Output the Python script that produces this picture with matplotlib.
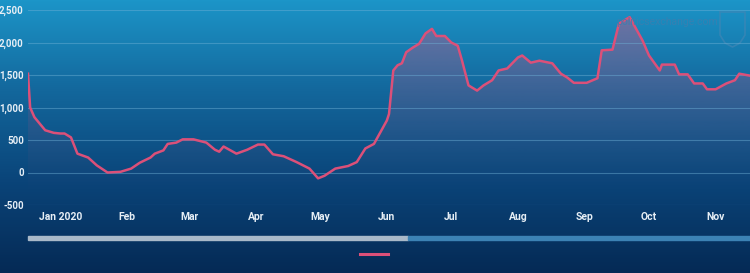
import numpy as np
import pandas as pd
import matplotlib
matplotlib.use("Agg")
import matplotlib.pyplot as plt
import matplotlib.dates as mdates
from matplotlib.colors import LinearSegmentedColormap

# values (7-day style series)
daty = [
    "2019-12-17", "2019-12-18", "2019-12-20", "2019-12-22", "2019-12-25", "2019-12-29",
    "2020-01-01", "2020-01-03", "2020-01-06", "2020-01-09", "2020-01-14", "2020-01-18",
    "2020-01-23", "2020-01-29", "2020-02-03", "2020-02-07", "2020-02-12", "2020-02-14",
    "2020-02-18", "2020-02-20", "2020-02-24", "2020-02-27", "2020-03-03", "2020-03-09",
    "2020-03-13", "2020-03-15", "2020-03-17", "2020-03-23", "2020-03-28", "2020-04-02",
    "2020-04-05", "2020-04-09", "2020-04-14", "2020-04-20", "2020-04-26", "2020-04-30",
    "2020-05-03", "2020-05-08", "2020-05-14", "2020-05-18", "2020-05-22", "2020-05-26",
    "2020-05-29", "2020-06-01", "2020-06-02", "2020-06-04", "2020-06-06", "2020-06-08",
    "2020-06-10", "2020-06-13", "2020-06-16", "2020-06-19", "2020-06-22", "2020-06-24",
    "2020-06-28", "2020-07-01", "2020-07-04", "2020-07-06", "2020-07-09", "2020-07-13",
    "2020-07-16", "2020-07-20", "2020-07-23", "2020-07-27", "2020-08-01", "2020-08-03",
    "2020-08-07", "2020-08-11", "2020-08-17", "2020-08-21", "2020-08-24", "2020-08-27",
    "2020-09-02", "2020-09-07", "2020-09-09", "2020-09-14", "2020-09-17", "2020-09-21",
    "2020-09-22", "2020-09-25", "2020-09-28", "2020-10-01", "2020-10-06", "2020-10-07",
    "2020-10-13", "2020-10-15", "2020-10-19", "2020-10-22", "2020-10-26", "2020-10-28",
    "2020-11-01", "2020-11-06", "2020-11-10", "2020-11-12", "2020-11-17",
]
wartosci = [
    1520, 1000, 850, 770, 650, 610,
    600, 600, 540, 290, 230, 110,
    0, 10, 60, 150, 230, 290,
    340, 440, 460, 510, 510, 460,
    350, 320, 400, 290, 350, 430,
    430, 280, 250, 160, 60, -90,
    -50, 60, 100, 160, 370, 440,
    620, 800, 900, 1570, 1650, 1680,
    1850, 1920, 1980, 2140, 2210, 2100,
    2100, 2000, 1950, 1720, 1340, 1260,
    1340, 1420, 1570, 1600, 1770, 1800,
    1690, 1720, 1680, 1520, 1460, 1380,
    1380, 1450, 1880, 1890, 2290, 2370,
    2390, 2210, 2030, 1800, 1570, 1660,
    1660, 1510, 1510, 1370, 1370, 1280,
    1280, 1370, 1420, 1520, 1490,
]
miesiace = ["2020-01-01", "2020-02-01", "2020-03-01", "2020-04-01", "2020-05-01", "2020-06-01",
            "2020-07-01", "2020-08-01", "2020-09-01", "2020-10-01", "2020-11-01"]
etykiety_x = ["Jan 2020", "Feb", "Mar", "Apr", "May", "Jun", "Jul", "Aug", "Sep", "Oct", "Nov"]
ticki_y = [-500, 0, 500, 1000, 1500, 2000, 2500]
etykiety_y = ["-500", "0", "500", "1,000", "1,500", "2,000", "2,500"]

plt.rcParams["font.family"] = ["Roboto", "DejaVu Sans"]

df = pd.DataFrame({"data": pd.to_datetime(daty), "wartosc": wartosci})

W, H = 750, 273
fig = plt.figure(figsize=(W / 100, H / 100), dpi=100)

# tlo - gradient
tlo = fig.add_axes([0, 0, 1, 1], zorder=-10)
cm_tlo = LinearSegmentedColormap.from_list("tlo", ["#1c95c8", "#13679c", "#0a4479", "#052a55"])
grad = np.linspace(0, 1, 256).reshape(-1, 1)
tlo.imshow(grad, aspect="auto", cmap=cm_tlo, extent=[0, 1, 0, 1], origin="upper")
tlo.set_xlim(0, 1)
tlo.set_ylim(0, 1)
tlo.set_axis_off()

# tarcza (logo w tle)
tarcza_x = [720 / W, 745 / W, 745 / W, 740 / W, 732.5 / W, 725 / W, 720 / W, 720 / W]
tarcza_y = [1 - 12 / H, 1 - 12 / H, 1 - 35 / H, 1 - 43 / H, 1 - 47 / H, 1 - 43 / H, 1 - 35 / H, 1 - 12 / H]
tlo.plot(tarcza_x, tarcza_y, color="#3f86b5", lw=1.2, alpha=0.7)

ax = fig.add_axes([28 / W, 1 - 205 / H, 722 / W, 195 / H])
ax.set_facecolor("none")
x = mdates.date2num(df["data"])
y = df["wartosc"].values

# wypelnienie z gradientem
poly = ax.fill_between(x, y, -500, color="none", lw=0)
rgba = np.zeros((256, 1, 4))
rgba[..., 0] = 225 / 255
rgba[..., 1] = 80 / 255
rgba[..., 2] = 125 / 255
rgba[..., 3] = (0.45 * np.linspace(0, 1, 256) ** 1.6).reshape(-1, 1)
img = ax.imshow(rgba, aspect="auto", origin="lower", extent=[x[0], x[-1], -500, 2500], zorder=1)
img.set_clip_path(poly.get_paths()[0], transform=ax.transData)

ax.plot(x, y, color="#dc5079", lw=1.8, zorder=3, solid_joinstyle="round")

ax.set_xlim(x[0], x[-1])
ax.set_ylim(-500, 2500)
ax.set_yticks(ticki_y)
ax.set_yticklabels(etykiety_y)
ax.set_xticks(mdates.date2num(pd.to_datetime(miesiace)))
ax.set_xticklabels(etykiety_x)
ax.tick_params(length=0, colors="#e6eef5", labelsize=7)
ax.tick_params(axis="x", labelsize=7.5, pad=5)
ax.tick_params(axis="y", pad=3)
for t in ax.get_xticklabels() + ax.get_yticklabels():
    t.set_fontweight("bold")
ax.grid(axis="y", color="#6fb0d6", alpha=0.45, lw=0.8)
for s in ax.spines.values():
    s.set_visible(False)

# znak wodny
fig.text(667 / W, 1 - 22 / H, "politicsexchange.com", color="#3a7fb0", alpha=0.9,
         fontsize=7.5, ha="center", va="center")

# pasek przewijania i legenda
fig.patches.append(plt.Rectangle((28 / W, 1 - 240 / H), 380 / W, 4 / H, transform=fig.transFigure,
                                 color="#a9b9c9", zorder=5))
fig.patches.append(plt.Rectangle((408 / W, 1 - 240 / H), 342 / W, 4 / H, transform=fig.transFigure,
                                 color="#3c82b4", zorder=5))
fig.lines.append(plt.Line2D([360 / W, 388 / W], [1 - 254 / H, 1 - 254 / H], transform=fig.transFigure,
                            color="#dc5079", lw=2.2))

fig.savefig("out.png", dpi=100)
